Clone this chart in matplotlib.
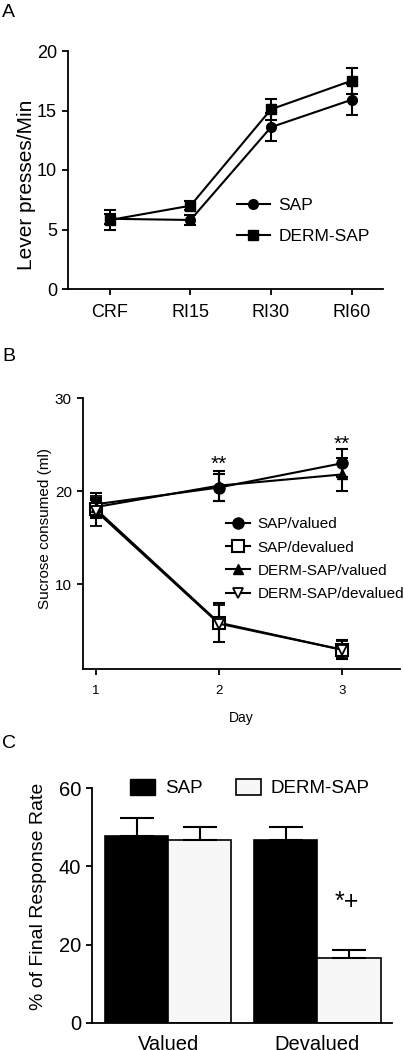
import matplotlib
matplotlib.use('Agg')
import matplotlib.pyplot as plt
from matplotlib.lines import Line2D
from matplotlib.patches import Patch
import numpy as np

plt.rcParams['font.family'] = ['Liberation Sans', 'DejaVu Sans']

# panel A: lever presses per minute across schedules
schedules = ['CRF', 'RI15', 'RI30', 'RI60']
sap_rate = [5.9, 5.8, 13.6, 15.9]
sap_rate_err = [0.4, 0.4, 1.2, 1.3]
derm_rate = [5.8, 7.0, 15.1, 17.5]
derm_rate_err = [0.8, 0.4, 0.9, 1.1]

# panel B: sucrose consumed per day
days = [1, 2, 3]
sap_valued = [18.6, 20.4, 23.0]
sap_valued_err = [1.2, 1.4, 1.5]
sap_devalued = [18.1, 5.9, 3.0]
sap_devalued_err = [1.0, 2.1, 1.0]
derm_valued = [18.3, 20.6, 21.8]
derm_valued_err = [1.0, 1.6, 1.8]
derm_devalued = [17.9, 5.8, 3.0]
derm_devalued_err = [1.6, 2.0, 0.9]

# panel C: % of final response rate
conditions = ['Valued', 'Devalued']
sap_pct = [47.7, 46.7]
sap_pct_err = [4.6, 3.3]
derm_pct = [46.6, 16.7]
derm_pct_err = [3.4, 2.0]

fig = plt.figure(figsize=(4.04, 10.5), dpi=100)


def style_axes(ax, lw=1.3):
    for s in ['top', 'right']:
        ax.spines[s].set_visible(False)
    for s in ['left', 'bottom']:
        ax.spines[s].set_linewidth(lw)
    ax.tick_params(width=lw, length=4.5, color='black')


# ---- A ----
axA = fig.add_axes([68 / 404, 1 - 289 / 1050, 315 / 404, 238 / 1050])
xa = np.arange(len(schedules))
eb = dict(color='black', lw=1.5, elinewidth=1.5, capsize=4, capthick=1.5)
axA.errorbar(xa, sap_rate, yerr=sap_rate_err, marker='o', ms=7, label='SAP', **eb)
axA.errorbar(xa, derm_rate, yerr=derm_rate_err, marker='s', ms=7, label='DERM-SAP', **eb)
axA.set_xlim(-0.52, 3.39)
axA.set_ylim(0, 20)
axA.set_yticks([0, 5, 10, 15, 20])
axA.set_xticks(xa)
axA.set_xticklabels(schedules)
style_axes(axA)
axA.tick_params(labelsize=13)
axA.tick_params(axis='x', pad=6)
axA.set_ylabel('Lever presses/Min', fontsize=15)
axA.yaxis.set_label_coords(-0.10, 0.437)
hA = [Line2D([], [], color='black', lw=1.5, marker='o', ms=7),
      Line2D([], [], color='black', lw=1.5, marker='s', ms=7)]
axA.legend(hA, ['SAP', 'DERM-SAP'], loc='upper left', bbox_to_anchor=(0.535, 0.383),
           frameon=False, fontsize=12.5, borderpad=0, borderaxespad=0,
           handlelength=1.9, handletextpad=0.5, labelspacing=0.92)

# ---- B ----
axB = fig.add_axes([83 / 404, 1 - 669.3 / 1050, 317 / 404, 271.3 / 1050])
ebB = dict(color='black', lw=1.5, elinewidth=1.5, capsize=4.5, capthick=1.5)
axB.errorbar(days, sap_valued, yerr=sap_valued_err, marker='o', ms=8, **ebB)
axB.errorbar(days, sap_devalued, yerr=sap_devalued_err, marker='s', ms=8,
             mfc='white', mec='black', mew=1.5, **ebB)
axB.errorbar(days, derm_valued, yerr=derm_valued_err, marker='^', ms=7, **ebB)
axB.errorbar(days, derm_devalued, yerr=derm_devalued_err, marker='v', ms=7,
             mfc='white', mec='black', mew=1.3, **ebB)
axB.set_xlim(0.897, 3.47)
axB.set_ylim(0.9, 30)
axB.set_yticks([10, 20, 30])
axB.set_xticks(days)
style_axes(axB)
axB.tick_params(axis='y', labelsize=11)
axB.tick_params(axis='x', labelsize=9.5, pad=7)
axB.set_xlabel('Day', fontsize=10, labelpad=10)
axB.set_ylabel('Sucrose consumed (ml)', fontsize=11)
axB.yaxis.set_label_coords(-0.098, 0.52)
axB.text(2, 22.3, '**', ha='center', va='baseline', fontsize=15)
axB.text(3, 24.4, '**', ha='center', va='baseline', fontsize=15)
hB = [Line2D([], [], color='black', lw=1.5, marker='o', ms=8),
      Line2D([], [], color='black', lw=1.5, marker='s', ms=8, mfc='white', mew=1.5),
      Line2D([], [], color='black', lw=1.5, marker='^', ms=7),
      Line2D([], [], color='black', lw=1.5, marker='v', ms=7, mfc='white', mew=1.3)]
axB.legend(hB, ['SAP/valued', 'SAP/devalued', 'DERM-SAP/valued', 'DERM-SAP/devalued'],
           loc='upper left', bbox_to_anchor=(0.45, 0.56), frameon=False, fontsize=11,
           borderpad=0, borderaxespad=0, handlelength=1.6, handletextpad=0.5,
           labelspacing=0.6)

# ---- C ----
axC = fig.add_axes([92 / 404, 1 - 1023 / 1050, 300 / 404, 235 / 1050])
xc = np.arange(len(conditions))
w = 0.423
axC.bar(xc - w / 2, sap_pct, w, color='black', edgecolor='black', lw=1.2)
axC.bar(xc + w / 2, derm_pct, w, color='#f7f7f7', edgecolor='black', lw=1.2)
axC.errorbar(xc - w / 2, sap_pct, yerr=[[0, 0], sap_pct_err], fmt='none',
             ecolor='black', elinewidth=1.5, capsize=12, capthick=1.5)
axC.errorbar(xc + w / 2, derm_pct, yerr=[[0, 0], derm_pct_err], fmt='none',
             ecolor='black', elinewidth=1.5, capsize=12, capthick=1.5)
axC.set_xlim(-0.51, 1.50)
axC.set_ylim(0, 60)
axC.set_yticks([0, 20, 40, 60])
axC.set_xticks(xc)
axC.set_xticklabels(conditions)
style_axes(axC)
axC.tick_params(axis='x', length=0, labelsize=14.5, pad=9)
axC.tick_params(axis='y', labelsize=14.5)
axC.set_ylabel('% of Final Response Rate', fontsize=14)
axC.yaxis.set_label_coords(-0.15, 0.54)
axC.text(1.2, 29, '*+', ha='center', va='baseline', fontsize=18)
hC = [Patch(facecolor='black', edgecolor='black'),
      Patch(facecolor='#f7f7f7', edgecolor='black', lw=1.2)]
axC.legend(hC, ['SAP', 'DERM-SAP'], ncol=2, loc='center left', bbox_to_anchor=(0.127, 1.0),
           frameon=False, fontsize=13.5, borderpad=0, borderaxespad=0,
           handlelength=1.33, handleheight=1.0, handletextpad=0.53, columnspacing=1.76)

fig.text(0.005, 1 - 4 / 1050, 'A', fontsize=14, va='top')
fig.text(0.005, 1 - 348 / 1050, 'B', fontsize=14, va='top')
fig.text(0.005, 1 - 735 / 1050, 'C', fontsize=14, va='top')

fig.savefig('out.png', dpi=100)
